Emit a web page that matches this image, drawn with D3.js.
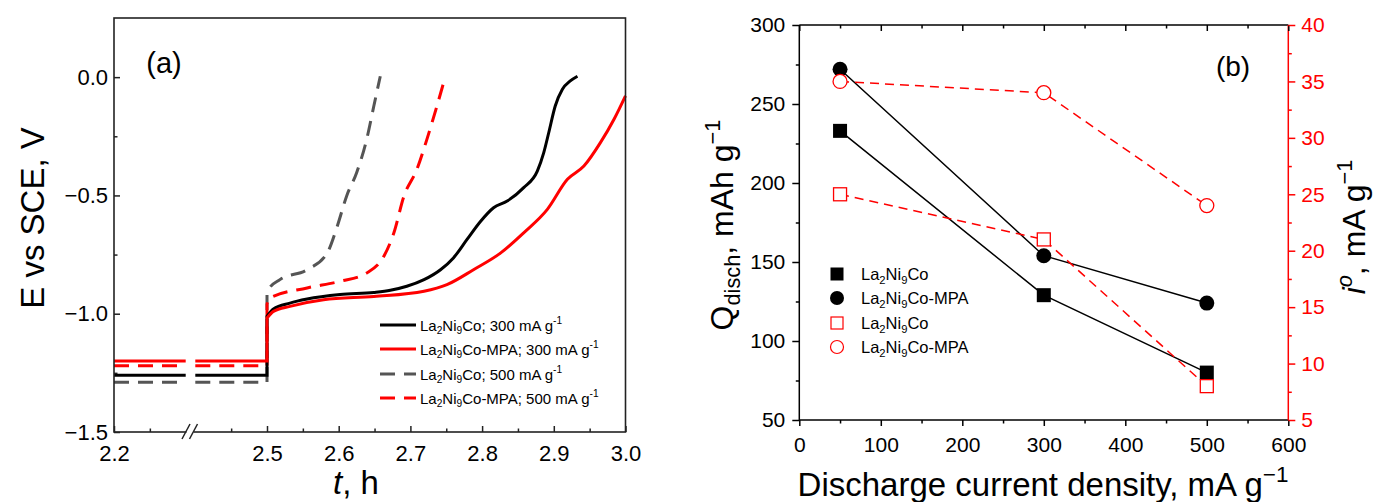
<!DOCTYPE html>
<html><head><meta charset="utf-8">
<script src="https://cdn.jsdelivr.net/npm/d3@7/dist/d3.min.js"></script>
<style>
body{margin:0;background:#fff}
svg{display:block}
text{font-family:"Liberation Sans",Arial,sans-serif;fill:#000}
</style></head>
<body><svg id="c" width="1376" height="502"></svg>
<script>
// ---------------- Panel (a) data ----------------
const legendA_material = ["La2Ni9Co", "La2Ni9Co-MPA", "La2Ni9Co", "La2Ni9Co-MPA"];
const legendA_current = [300, 300, 500, 500];
const colorsA = ["#000000", "#ff0000", "#555555", "#ff0000"];
const dashedA = [false, false, true, true];
const restV = [-1.26, -1.20, -1.29, -1.22];   // potential before the axis break (2.2 - 2.5 h)

// discharge curves after the break (first point = potential right after the jump at 2.5 h)
const t_La2Ni9Co_300 = [2.5, 2.509, 2.532, 2.556, 2.602, 2.649, 2.672, 2.695, 2.719, 2.742, 2.760, 2.779, 2.798, 2.816, 2.835, 2.858, 2.877, 2.886, 2.893, 2.902, 2.912, 2.923, 2.933];
const v_La2Ni9Co_300 = [-1.011, -0.980, -0.955, -0.938, -0.919, -0.910, -0.901, -0.884, -0.856, -0.814, -0.764, -0.686, -0.609, -0.552, -0.524, -0.467, -0.397, -0.319, -0.234, -0.122, -0.051, -0.016, 0.004];

const t_MPA_300 = [2.5, 2.509, 2.532, 2.579, 2.649, 2.719, 2.751, 2.788, 2.826, 2.858, 2.891, 2.919, 2.942, 2.965, 2.984, 3.0];
const v_MPA_300 = [-1.018, -0.99, -0.969, -0.941, -0.927, -0.905, -0.877, -0.814, -0.743, -0.658, -0.559, -0.432, -0.376, -0.277, -0.178, -0.079];

const t_La2Ni9Co_500 = [2.5, 2.502, 2.518, 2.556, 2.584, 2.598, 2.611, 2.625, 2.639, 2.649, 2.658];
const v_La2Ni9Co_500 = [-0.92, -0.898, -0.856, -0.814, -0.743, -0.630, -0.503, -0.404, -0.263, -0.122, 0.004];

const t_MPA_500 = [2.5, 2.503, 2.556, 2.602, 2.639, 2.663, 2.677, 2.691, 2.709, 2.723, 2.737, 2.747];
const v_MPA_500 = [-0.96, -0.935, -0.891, -0.863, -0.828, -0.757, -0.658, -0.503, -0.390, -0.263, -0.122, -0.016];

const xTicksA = [2.2, 2.5, 2.6, 2.7, 2.8, 2.9, 3.0];
const xMinorA = [2.25, 2.45, 2.55, 2.65, 2.75, 2.85, 2.95];
const yTicksA = [0.0, -0.5, -1.0, -1.5];
const yMinorA = [-0.25, -0.75, -1.25];

// ---------------- Panel (b) data ----------------
const currentB = [50, 300, 500];
const Q_La2Ni9Co = [233, 129, 80];
const Q_MPA = [272, 154, 124];
const i0_La2Ni9Co = [25, 21, 8];
const i0_MPA = [35, 34, 24];
const xTicksB = [0, 100, 200, 300, 400, 500, 600];
const xMinorB = [50, 150, 250, 350, 450, 550];
const yTicksBL = [50, 100, 150, 200, 250, 300];
const yMinorBL = [75, 125, 175, 225, 275];
const yTicksBR = [5, 10, 15, 20, 25, 30, 35, 40];
const yMinorBR = [7.5, 12.5, 17.5, 22.5, 27.5, 32.5, 37.5];

const svg = d3.select("#c");
const RED = "#ff0000";

function rich(textSel, parts, size) {
  let off = 0;
  parts.forEach(([s, kind]) => {
    const ts = textSel.append("tspan").text(s);
    let target = 0, fs = size;
    if (kind === "sub") { target = size * 0.22; fs = size * 0.68; }
    if (kind === "sup" || kind === "isup") { target = -size * 0.42; fs = size * 0.68; }
    if (kind === "i" || kind === "isup") ts.attr("font-style", "italic");
    ts.attr("font-size", fs);
    if (target !== off) ts.attr("dy", target - off);
    off = target;
  });
}
function material(name) {
  const rest = name.slice("La2Ni9Co".length);
  return [["La", "n"], ["2", "sub"], ["Ni", "n"], ["9", "sub"], ["Co" + rest, "n"]];
}

// ================= Panel (a) =================
const xa = d3.scaleLinear().domain([2.2, 2.3, 2.4, 3.0]).range([114, 185.7, 195.3, 625.5]);
const ya = d3.scaleLinear().domain([-1.5, 0.25]).range([432, 18]);
const gA = svg.append("g");

const curves = [
  [t_La2Ni9Co_300, v_La2Ni9Co_300],
  [t_MPA_300, v_MPA_300],
  [t_La2Ni9Co_500, v_La2Ni9Co_500],
  [t_MPA_500, v_MPA_500]
];
const lineA = d3.line().x(d => xa(d[0])).y(d => ya(d[1]));
const lineSmooth = d3.line().x(d => xa(d[0])).y(d => ya(d[1])).curve(d3.curveMonotoneX);
const drawOrder = [2, 3, 0, 1];
drawOrder.forEach(k => {
  const st = (p) => p.attr("fill", "none").attr("stroke", colorsA[k]).attr("stroke-width", 3)
    .attr("stroke-dasharray", dashedA[k] ? "15,9" : null);
  gA.append("path").datum([[2.2, restV[k]], [2.3, restV[k]]]).attr("d", lineA).call(st);
  const pre = lineA([[2.4, restV[k]], [2.5, restV[k]]]);
  const pts = curves[k][0].map((t, i) => [t, curves[k][1][i]]);
  const post = lineSmooth(pts).replace(/^M/, "L");
  gA.append("path").attr("d", pre + post).call(st);
});

gA.append("rect").attr("x", 114).attr("y", 18).attr("width", 625.5 - 114).attr("height", 432 - 18)
  .attr("fill", "none").attr("stroke", "#222").attr("stroke-width", 1.6);

const fmtA = d => d === 0 ? "0.0" : d3.format(".1f")(d).replace("-", "\u2212");
const axA_b = gA.append("g").attr("transform", "translate(0,432)")
  .call(d3.axisBottom(xa).tickValues(xTicksA).tickSize(-6).tickPadding(13).tickFormat(d3.format(".1f")));
const axA_bm = gA.append("g").attr("transform", "translate(0,432)")
  .call(d3.axisBottom(xa).tickValues(xMinorA).tickSize(-3.5).tickFormat(""));
const axA_l = gA.append("g").attr("transform", "translate(114,0)")
  .call(d3.axisLeft(ya).tickValues(yTicksA).tickSize(-6).tickPadding(6).tickFormat(fmtA));
const axA_lm = gA.append("g").attr("transform", "translate(114,0)")
  .call(d3.axisLeft(ya).tickValues(yMinorA).tickSize(-3.5).tickFormat(""));
[axA_b, axA_bm, axA_l, axA_lm].forEach(g => {
  g.select(".domain").remove();
  g.selectAll("line").attr("stroke", "#222").attr("stroke-width", 1.5);
  g.selectAll("text").attr("font-size", 22).attr("font-family", "Liberation Sans, Arial, sans-serif").attr("fill", "#000");
});

gA.append("rect").attr("x", 186.5).attr("y", 428).attr("width", 7).attr("height", 8).attr("fill", "#fff");
[[182, 190], [189.5, 197.5]].forEach(([a, b]) => {
  gA.append("line").attr("x1", a).attr("y1", 439).attr("x2", b).attr("y2", 424)
    .attr("stroke", "#222").attr("stroke-width", 1.5);
});

gA.append("text").attr("x", 164).attr("y", 73).attr("text-anchor", "middle").attr("font-size", 29).text("(a)");
const ytA = gA.append("text").attr("transform", "translate(44,218) rotate(-90)").attr("text-anchor", "middle").attr("font-size", 33);
ytA.text("E vs SCE, V");
const xtA = gA.append("text").attr("x", 356).attr("y", 494).attr("text-anchor", "middle").attr("font-size", 33);
rich(xtA, [["t", "i"], [", h", "n"]], 33);

const legAY = [325, 349, 374, 398];
legAY.forEach((y, k) => {
  gA.append("line").attr("x1", 380).attr("x2", 416).attr("y1", y).attr("y2", y)
    .attr("stroke", colorsA[k]).attr("stroke-width", 3).attr("stroke-dasharray", dashedA[k] ? "15,9" : null);
  const t = gA.append("text").attr("x", 420).attr("y", y + 5.5).attr("font-size", 15);
  rich(t, material(legendA_material[k]).concat([["; " + legendA_current[k] + " mA g", "n"], ["-1", "sup"]]), 15);
});

// ================= Panel (b) =================
const L = 799.3, R = 1288.3, T = 25, B = 420;
const xb = d3.scaleLinear().domain([0, 600]).range([L, R]);
const yL = d3.scaleLinear().domain([50, 300]).range([B, T]);
const yR = d3.scaleLinear().domain([5, 40]).range([B, T]);
const gB = svg.append("g");

gB.append("line").attr("x1", L).attr("x2", R).attr("y1", T).attr("y2", T).attr("stroke", "#000").attr("stroke-width", 1.5);
gB.append("line").attr("x1", L).attr("x2", R).attr("y1", B).attr("y2", B).attr("stroke", "#000").attr("stroke-width", 1.5);
gB.append("line").attr("x1", L).attr("x2", L).attr("y1", T).attr("y2", B).attr("stroke", "#000").attr("stroke-width", 1.5);
gB.append("line").attr("x1", R).attr("x2", R).attr("y1", T).attr("y2", B).attr("stroke", RED).attr("stroke-width", 1.5);

const axes = [];
axes.push(gB.append("g").attr("transform", `translate(0,${B})`)
  .call(d3.axisBottom(xb).tickValues(xTicksB).tickSize(6).tickPadding(11).tickFormat(d3.format("d"))));
axes.push(gB.append("g").attr("transform", `translate(0,${B})`)
  .call(d3.axisBottom(xb).tickValues(xMinorB).tickSize(3.5).tickFormat("")));
axes.push(gB.append("g").attr("transform", `translate(0,${T})`)
  .call(d3.axisTop(xb).tickValues(xTicksB).tickSize(-6).tickFormat("")));
axes.push(gB.append("g").attr("transform", `translate(0,${T})`)
  .call(d3.axisTop(xb).tickValues(xMinorB).tickSize(-3.5).tickFormat("")));
axes.push(gB.append("g").attr("transform", `translate(${L},0)`)
  .call(d3.axisLeft(yL).tickValues(yTicksBL).tickSize(7).tickPadding(7).tickFormat(d3.format("d"))));
axes.push(gB.append("g").attr("transform", `translate(${L},0)`)
  .call(d3.axisLeft(yL).tickValues(yMinorBL).tickSize(3.5).tickFormat("")));
axes.forEach(g => {
  g.select(".domain").remove();
  g.selectAll("line").attr("stroke", "#000").attr("stroke-width", 1.5);
  g.selectAll("text").attr("font-size", 21).attr("font-family", "Liberation Sans, Arial, sans-serif").attr("fill", "#000");
});
const axR = gB.append("g").attr("transform", `translate(${R},0)`)
  .call(d3.axisRight(yR).tickValues(yTicksBR).tickSize(7).tickPadding(6).tickFormat(d3.format("d")));
const axRm = gB.append("g").attr("transform", `translate(${R},0)`)
  .call(d3.axisRight(yR).tickValues(yMinorBR).tickSize(3.5).tickFormat(""));
[axR, axRm].forEach(g => {
  g.select(".domain").remove();
  g.selectAll("line").attr("stroke", RED).attr("stroke-width", 1.5);
  g.selectAll("text").attr("font-size", 21).attr("font-family", "Liberation Sans, Arial, sans-serif").style("fill", RED);
});

const lineL = d3.line().x((d, i) => xb(currentB[i])).y(d => yL(d));
const lineR = d3.line().x((d, i) => xb(currentB[i])).y(d => yR(d));
[Q_La2Ni9Co, Q_MPA].forEach(arr => {
  gB.append("path").datum(arr).attr("d", lineL).attr("fill", "none").attr("stroke", "#000").attr("stroke-width", 1.5);
});
gB.selectAll(".sq").data(Q_La2Ni9Co).join("rect")
  .attr("x", (d, i) => xb(currentB[i]) - 7).attr("y", d => yL(d) - 7).attr("width", 14).attr("height", 14).attr("fill", "#000");
gB.selectAll(".ci").data(Q_MPA).join("circle")
  .attr("cx", (d, i) => xb(currentB[i])).attr("cy", d => yL(d)).attr("r", 7.5).attr("fill", "#000");
[i0_La2Ni9Co, i0_MPA].forEach(arr => {
  gB.append("path").datum(arr).attr("d", lineR).attr("fill", "none").attr("stroke", RED).attr("stroke-width", 1.5)
    .attr("stroke-dasharray", "9,6");
});
gB.selectAll(".osq").data(i0_La2Ni9Co).join("rect")
  .attr("x", (d, i) => xb(currentB[i]) - 6.5).attr("y", d => yR(d) - 6.5).attr("width", 13).attr("height", 13)
  .attr("fill", "#fff").attr("stroke", RED).attr("stroke-width", 1.3);
gB.selectAll(".oci").data(i0_MPA).join("circle")
  .attr("cx", (d, i) => xb(currentB[i])).attr("cy", d => yR(d)).attr("r", 7)
  .attr("fill", "#fff").attr("stroke", RED).attr("stroke-width", 1.3);

const legBY = [274, 298, 323, 347];
const legBNames = ["La2Ni9Co", "La2Ni9Co-MPA", "La2Ni9Co", "La2Ni9Co-MPA"];
gB.append("rect").attr("x", 837 - 6.5).attr("y", legBY[0] - 6.5).attr("width", 13).attr("height", 13).attr("fill", "#000");
gB.append("circle").attr("cx", 837).attr("cy", legBY[1]).attr("r", 7).attr("fill", "#000");
gB.append("rect").attr("x", 837 - 6).attr("y", legBY[2] - 6).attr("width", 12).attr("height", 12).attr("fill", "#fff").attr("stroke", RED).attr("stroke-width", 1.2);
gB.append("circle").attr("cx", 837).attr("cy", legBY[3]).attr("r", 6.5).attr("fill", "#fff").attr("stroke", RED).attr("stroke-width", 1.2);
legBY.forEach((y, k) => {
  const t = gB.append("text").attr("x", 861).attr("y", y + 6).attr("font-size", 16.5);
  rich(t, material(legBNames[k]), 16.5);
});

gB.append("text").attr("x", 1233).attr("y", 76).attr("text-anchor", "middle").attr("font-size", 28).text("(b)");
const xtB = gB.append("text").attr("x", 1043).attr("y", 496).attr("text-anchor", "middle").attr("font-size", 33);
rich(xtB, [["Discharge current density, mA g", "n"], ["\u22121", "sup"]], 33);
const ytBL = gB.append("text").attr("transform", "translate(733,225) rotate(-90)").attr("text-anchor", "middle").attr("font-size", 32);
rich(ytBL, [["Q", "n"], ["disch", "sub"], [", mAh g", "n"], ["\u22121", "sup"]], 32);
const ytBR = gB.append("text").attr("transform", "translate(1365,227) rotate(-90)").attr("text-anchor", "middle").attr("font-size", 32);
rich(ytBR, [["i", "i"], ["o", "isup"], [", mA g", "n"], ["\u22121", "sup"]], 32);
</script>
</body></html>
